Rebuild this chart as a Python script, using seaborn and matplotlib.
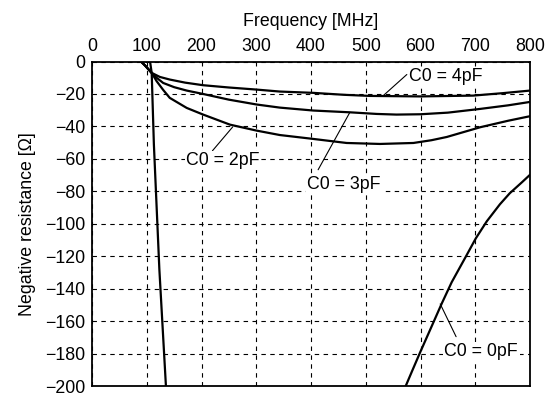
import matplotlib
matplotlib.use("Agg")
import matplotlib.pyplot as plt
import seaborn as sns
import pandas as pd

sns.set_theme(style="white")
plt.rcParams['font.family'] = ['Liberation Sans', 'DejaVu Sans']

# C0 = 0pF (two branches)
f0a = [100, 106, 109, 113, 123, 135]
r0a = [40, 0, -7, -51, -128, -200]
f0b = [573, 585, 599, 620, 639, 657, 684, 701, 721, 745, 763, 785, 800]
r0b = [-200, -190.5, -179.5, -163.5, -149, -136, -119.5, -109, -98.5, -88, -81.2, -74.5, -69.8]
# C0 = 2pF
f2 = [85, 97, 109, 118, 130, 142, 160, 173, 203, 252, 301, 343, 404, 465, 526, 587, 620, 648, 709, 760, 800]
r2 = [1.5, -2.5, -7, -12.1, -17.5, -22.4, -26, -28.6, -32.7, -38.9, -42.6, -45.3, -47.7, -50.2, -50.8, -50.2, -48.5, -46.5, -40.5, -36.5, -33.7]
# C0 = 3pF
f3 = [85, 97, 109, 118, 130, 150, 173, 203, 250, 301, 343, 404, 471, 520, 556, 600, 650, 709, 760, 800]
r3 = [1.5, -2.5, -7, -10, -13.2, -15.8, -17.9, -20, -23.5, -26.5, -28.4, -30.2, -31.3, -32.3, -32.7, -32.5, -31.5, -29.2, -27, -24.9]
# C0 = 4pF
f4 = [85, 97, 109, 124, 142, 170, 203, 250, 301, 343, 404, 460, 508, 600, 696, 750, 800]
r4 = [1.5, -2.5, -7, -9.5, -11.1, -13, -14.6, -16, -17.3, -18.5, -19.3, -20.5, -21.2, -21.5, -21, -19.5, -17.9]

labels = ["C0 = 0pF", "C0 = 2pF", "C0 = 3pF", "C0 = 4pF"]
xticks = [0, 100, 200, 300, 400, 500, 600, 700, 800]
yticks = [0, -20, -40, -60, -80, -100, -120, -140, -160, -180, -200]

rows = []
for seg, (f, r) in {"0a": (f0a, r0a), "0b": (f0b, r0b), "2": (f2, r2), "3": (f3, r3), "4": (f4, r4)}.items():
    for a, b in zip(f, r):
        rows.append({"f": a, "r": b, "seg": seg})
df = pd.DataFrame(rows)

fig = plt.figure(figsize=(5.49, 3.97), dpi=100)
ax = fig.add_axes([0.1676, 0.0277, 0.7978, 0.8173])
sns.lineplot(data=df, x="f", y="r", units="seg", estimator=None, sort=False,
             color="black", lw=1.6, ax=ax, legend=False)

ax.set_xlim(0, 800)
ax.set_ylim(-200, 0)
ax.set_xticks(xticks)
ax.set_yticks(yticks)
ax.set_yticklabels(["0"] + ["\u2212%d" % (-v) for v in yticks[1:]])
ax.xaxis.tick_top()
ax.xaxis.set_label_position("top")
ax.tick_params(length=0, labelsize=12.8, colors="black", pad=5)
ax.set_xlabel("Frequency [MHz]", fontsize=12.8, color="black", labelpad=8)
ax.set_ylabel("Negative resistance [\u03a9]", fontsize=12.8, color="black", labelpad=6)
ax.grid(True, color="black", linestyle=(0, (4, 4)), linewidth=0.8)
for s in ax.spines.values():
    s.set_color("black")
    s.set_linewidth(1.3)

ann = [
    (labels[3], (532, -21), (647, -9.3), (575, -8)),
    (labels[2], (471, -31.3), (460, -76), (413, -66.7)),
    (labels[1], (257, -40.3), (239, -61), (220, -55)),
    (labels[0], (636, -149.4), (711, -179), (665, -169.6)),
]
for txt, p1, tp, p2 in ann:
    ax.plot([p1[0], p2[0]], [p1[1], p2[1]], color="black", lw=0.8)
    ax.text(tp[0], tp[1], txt, fontsize=12.8, ha="center", va="center",
            color="black", bbox=dict(facecolor="white", edgecolor="none", pad=1))

fig.savefig("out.png", dpi=100)
